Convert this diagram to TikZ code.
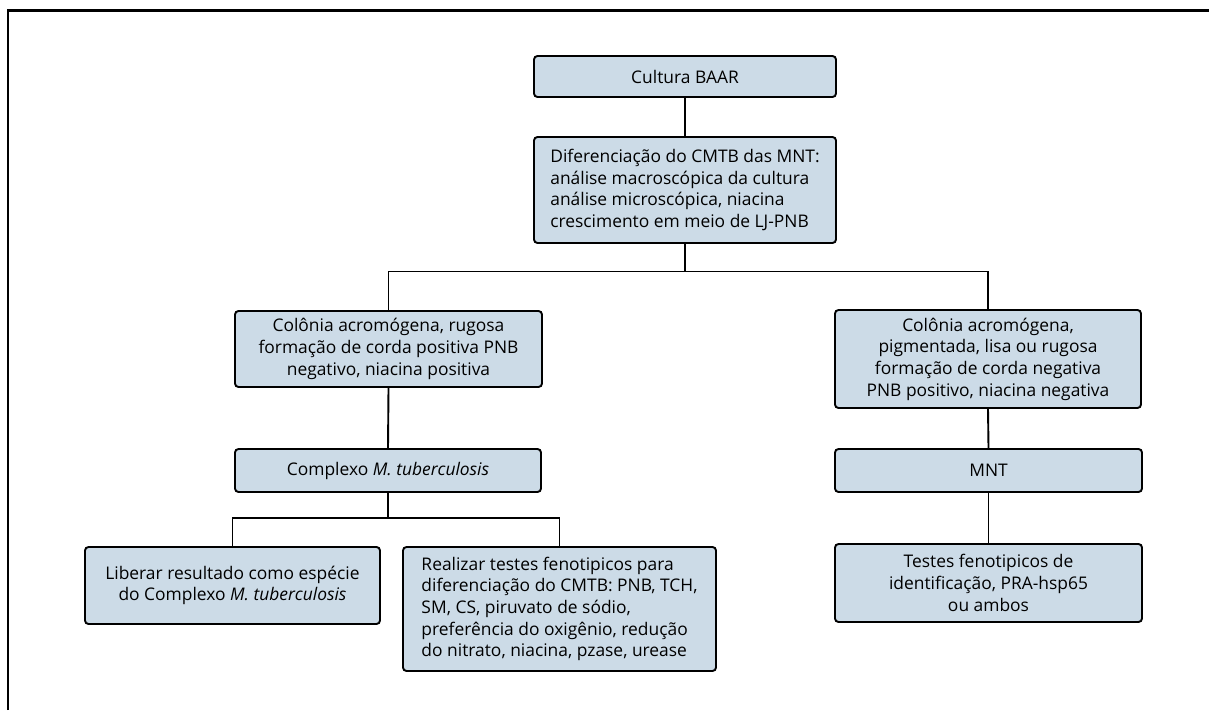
\documentclass[tikz,border=0pt]{standalone}
\usepackage{fontspec}
\setmainfont{Open Sans}
\usetikzlibrary{calc}
\definecolor{boxfill}{HTML}{CCDBE7}
\tikzset{
  x=1pt, y=-1pt,
  fbox/.style={draw=black, fill=boxfill, line width=1.9pt, rounded corners=3.5pt,
    font=\fontsize{17.4}{21.7}\selectfont, inner sep=0pt, align=center},
  conn/.style={draw=black, line width=1.9pt}
}
\begin{document}
\begin{tikzpicture}
\useasboundingbox (0,0) rectangle (1209,710);
\draw[line width=2.3pt] (8.3,710) -- (8.3,10.5) -- (1209,10.5);

\node[fbox, minimum width=302pt, minimum height=41pt] (baar) at (685,76.5) {Cultura BAAR};
\node[fbox, align=left, minimum width=302pt, minimum height=106pt] (dif) at (685,190)
  {Diferenciação do CMTB das MNT:\\análise macroscópica da cultura\\análise microscópica, niacina\\crescimento em meio de LJ-PNB};
\node[fbox, minimum width=307pt, minimum height=76pt] (colL) at (388.5,349)
  {Colônia acromógena, rugosa\\formação de corda positiva PNB\\negativo, niacina positiva};
\node[fbox, minimum width=306pt, minimum height=98pt] (colR) at (988,359)
  {Colônia acromógena,\\pigmentada, lisa ou rugosa\\formação de corda negativa\\PNB positivo, niacina negativa};
\node[fbox, minimum width=306pt, minimum height=43pt] (cmplx) at (388,470.5)
  {Complexo \textit{M. tuberculosis}};
\node[fbox, minimum width=307pt, minimum height=43pt] (mnt) at (988.5,470.5) {MNT};
\node[fbox, minimum width=295pt, minimum height=77pt] (lib) at (232.5,585.5)
  {Liberar resultado como espécie\\do Complexo \textit{M. tuberculosis}};
\node[fbox, align=left, minimum width=313pt, minimum height=124pt] (real) at (559.5,609)
  {Realizar testes fenotipicos para\\diferenciação do CMTB: PNB, TCH,\\SM, CS, piruvato de sódio,\\preferência do oxigênio, redução\\do nitrato, niacina, pzase, urease};
\node[fbox, minimum width=307pt, minimum height=78pt] (tes) at (988.5,583)
  {Testes fenotipicos de\\identificação, PRA-hsp65\\ou ambos};

\draw[conn] (baar.south) -- (dif.north);
\coordinate (j1) at (685,271.5);
\draw[conn] (dif.south) -- (j1);
\draw[conn] (j1) -| (colL.north);
\draw[conn] (j1) -| (colR.north);
\draw[conn] (colL.south) -- (cmplx.north);
\draw[conn] (colR.south) -- (mnt.north);
\draw[conn] (mnt.south) -- (tes.north);
\coordinate (j2) at (388,518);
\draw[conn] (cmplx.south) -- (j2);
\draw[conn] (j2) -| (lib.north);
\draw[conn] (j2) -| (real.north);
\end{tikzpicture}
\end{document}
